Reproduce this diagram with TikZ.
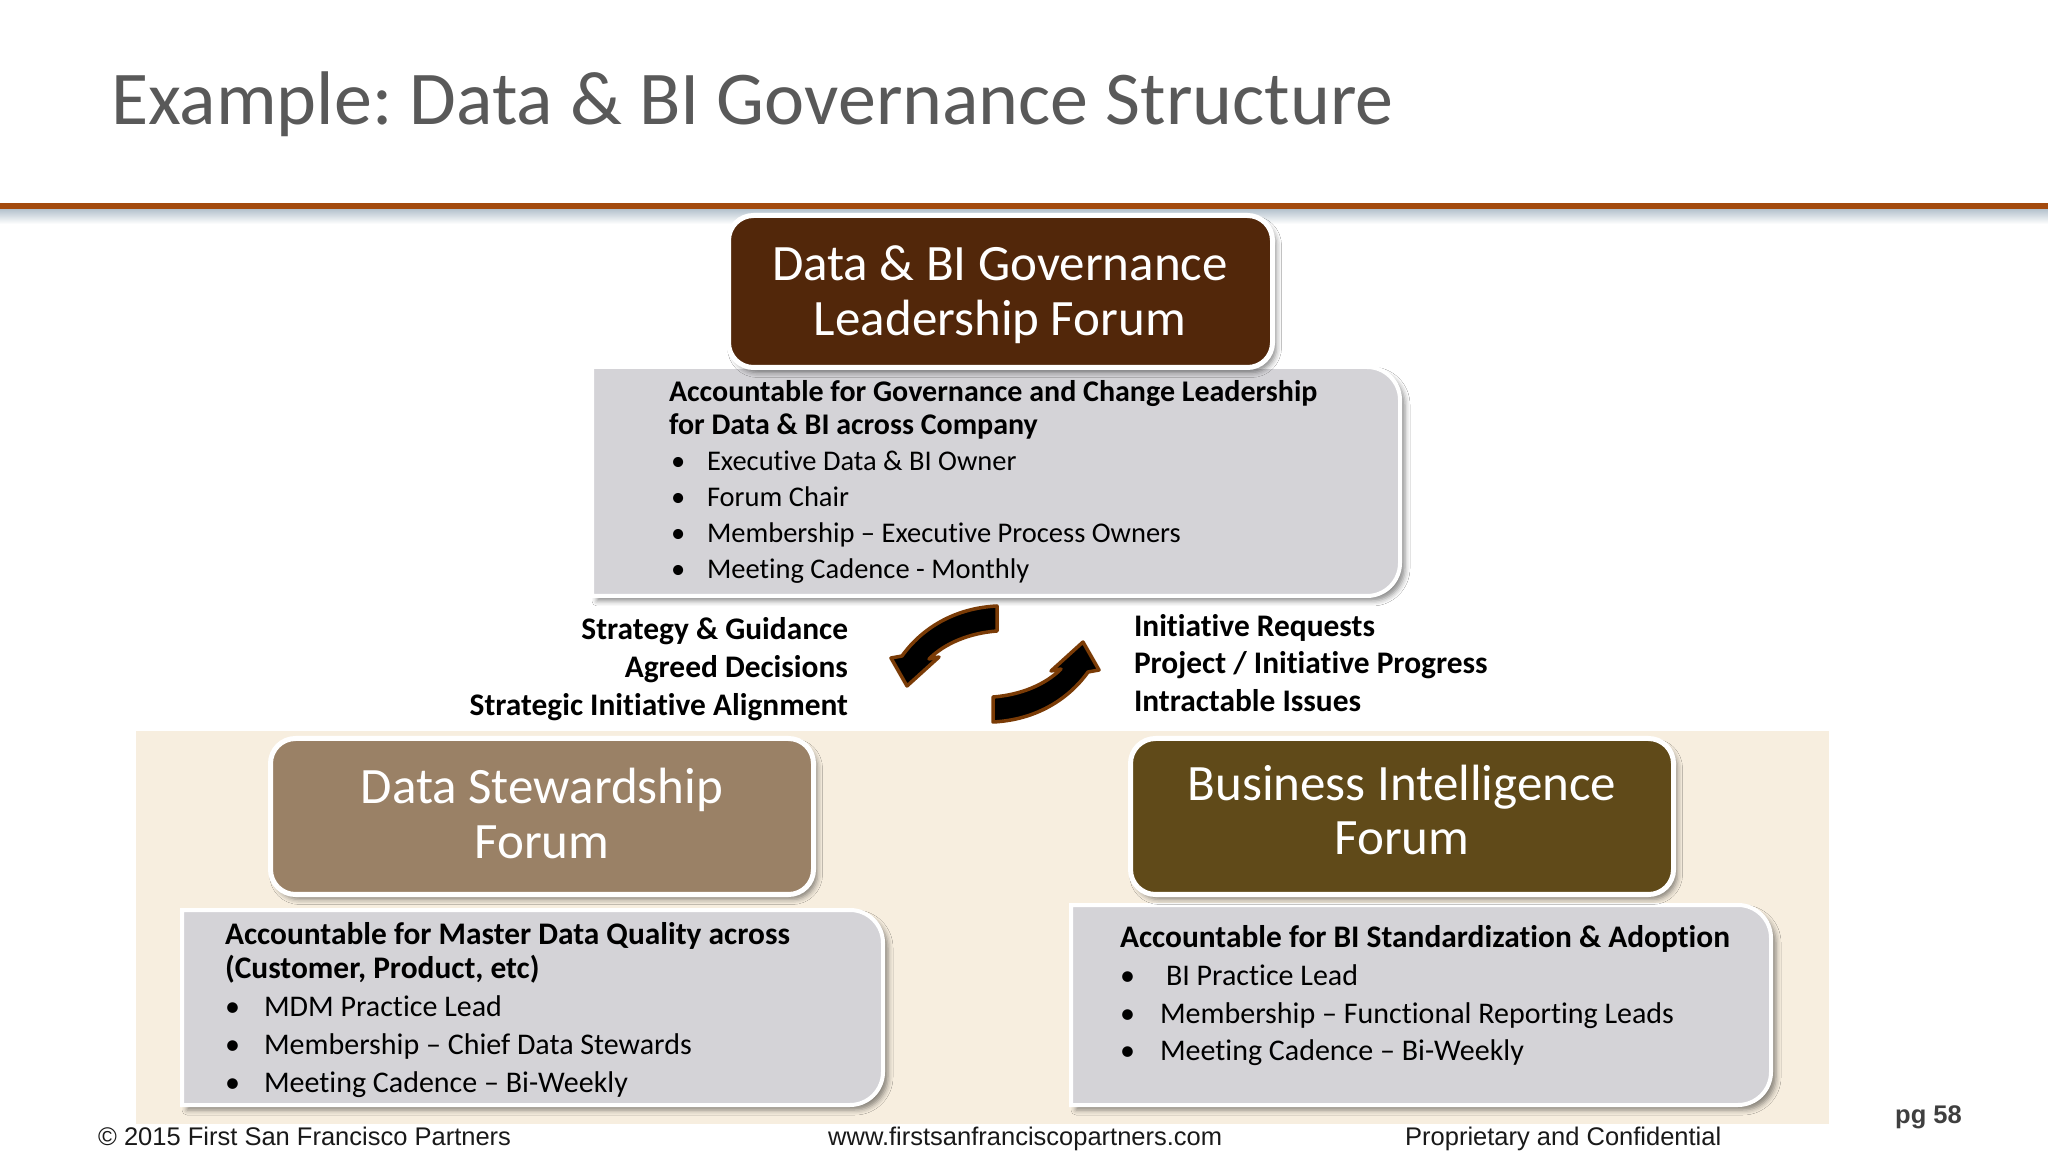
\documentclass[tikz,border=0pt]{standalone}
\usepackage{fontspec}
\setmainfont{Carlito}[Ligatures={TeX,NoCommon}]
\newfontfamily\arialfont{Liberation Sans}
\usetikzlibrary{shadows.blur}
\definecolor{titlegray}{HTML}{595959}
\definecolor{orangeline}{HTML}{A34A0E}
\definecolor{linesh}{HTML}{B4C2CD}
\definecolor{beige}{HTML}{F7EEDF}
\definecolor{boxgray}{HTML}{D4D3D7}
\definecolor{leadbrown}{HTML}{52270A}
\definecolor{dsbrown}{HTML}{9A8166}
\definecolor{bibrown}{HTML}{604A19}
\definecolor{arrowedge}{HTML}{7A3B06}
\definecolor{pggray}{HTML}{3F3F3F}
\newcommand{\rrbox}[6]{\path[#1] (#2,#3) -- ({#4-#6},#3) arc[start angle=-90,end angle=0,radius=#6] -- (#4,{#5-#6}) arc[start angle=0,end angle=90,radius=#6] -- (#2,#5) -- cycle;}
\frenchspacing
\begin{document}
\begin{tikzpicture}[x=1pt,y=1pt,
  txt/.style={inner sep=0pt, outer sep=0pt, anchor=base west, font=\fontsize{28.5}{34}\selectfont},
  boldtxt/.style={txt, font=\fontsize{30}{36}\selectfont\bfseries},
  btxt/.style={txt, font=\fontsize{30}{36}\selectfont},
  bboldtxt/.style={txt, font=\fontsize{31.4}{37}\selectfont\bfseries},
  lbl/.style={txt, font=\fontsize{31.4}{37}\selectfont\bfseries, anchor=base east},
  rlbl/.style={txt, font=\fontsize{31.4}{37}\selectfont\bfseries, anchor=base west},
  forum/.style={draw=white, line width=5pt, rounded corners=25pt, inner sep=0pt,
    blur shadow={shadow xshift=4pt, shadow yshift=-5pt, shadow blur radius=5pt, shadow opacity=45}},
  forumtxt/.style={inner sep=0pt, anchor=base, text=white, font=\fontsize{51}{60}\selectfont},
  graybox/.style={fill=boxgray, draw=white, line width=4pt,
    blur shadow={shadow xshift=5pt, shadow yshift=-5pt, shadow blur radius=5pt, shadow opacity=45}},
  cyc/.style={fill=black, draw=arrowedge, line width=3.5pt, line join=round},
  foot/.style={inner sep=0pt, anchor=base west, font=\arialfont\fontsize{25.5}{30}\selectfont, text=black!90}]
\useasboundingbox (0,0) rectangle (2048,1152);
\fill[white] (0,0) rectangle (2048,1152);
% title
\node[inner sep=0pt, anchor=base west, font=\fontsize{76}{90}\selectfont, text=titlegray] (title) at (111,1027) {Example: Data \& BI Governance Structure};
% rule
\shade[top color=linesh, bottom color=white] (0,928) rectangle (2048,943);
\fill[orangeline] (0,943) rectangle (2048,949);
% beige panel
\fill[beige] (136,28) rectangle (1829,421);
% top gray box
\rrbox{graybox}{592}{556}{1400}{785}{33}
\node[boldtxt] (lt1) at (669,750) {Accountable for Governance and Change Leadership};
\node[boldtxt] (lt2) at (669,717) {for Data \& BI across Company};
\node[txt] (lb1) at (671,681) {•};
\node[txt] (lb2) at (671,645) {•};
\node[txt] (lb3) at (671,609) {•};
\node[txt] (lb4) at (671,573) {•};
\node[txt] (li1) at (707,681) {Executive Data \& BI Owner};
\node[txt] (li2) at (707,645) {Forum Chair};
\node[txt] (li3) at (707,609) {Membership – Executive Process Owners};
\node[txt] (li4) at (707,573) {Meeting Cadence - Monthly};
% top forum box
\node[forum, fill=leadbrown, minimum width=544pt, minimum height=152pt] (lead) at (1000.5,860.5) {};
\node[forumtxt] (leadt1) at (1000,871) {Data \& BI Governance};
\node[forumtxt] (leadt2) at (1000,816) {Leadership Forum};
% labels
\node[lbl] (sl1) at (848,512) {Strategy \& Guidance};
\node[lbl] (sl2) at (848,474) {Agreed Decisions};
\node[lbl] (sl3) at (848,436) {Strategic Initiative Alignment};
\node[rlbl] (rl1) at (1134,515) {Initiative Requests};
\node[rlbl] (rl2) at (1134,478) {Project / Initiative Progress};
\node[rlbl] (rl3) at (1134,440) {Intractable Issues};
% cycle arrows
\path[cyc] (993,455) .. controls (1020,457) and (1045,467) .. (1061,483) -- (1051,481) -- (1083,510) -- (1099,482) -- (1088,480) .. controls (1068,452) and (1035,432) .. (993,430) -- cycle;
\begin{scope}[rotate around={180:(995,488)}]
\path[cyc] (993,455) .. controls (1020,457) and (1045,467) .. (1061,483) -- (1051,481) -- (1083,510) -- (1099,482) -- (1088,480) .. controls (1068,452) and (1035,432) .. (993,430) -- cycle;
\end{scope}
% left bottom gray box
\rrbox{graybox}{182}{47}{883}{242}{33}
\node[bboldtxt] (dt1) at (225,208) {Accountable for Master Data Quality across};
\node[bboldtxt] (dt2) at (225,174) {(Customer, Product, etc)};
\node[btxt] (db1) at (225,136) {•};
\node[btxt] (db2) at (225,98) {•};
\node[btxt] (db3) at (225,60) {•};
\node[btxt] (di1) at (264,136) {MDM Practice Lead};
\node[btxt] (di2) at (264,98) {Membership – Chief Data Stewards};
\node[btxt] (di3) at (264,60) {Meeting Cadence – Bi-Weekly};
% right bottom gray box
\rrbox{graybox}{1071}{47}{1771}{247}{33}
\node[bboldtxt] (bt1) at (1120,205) {Accountable for BI Standardization \& Adoption};
\node[btxt] (bb1) at (1120,167) {•};
\node[btxt] (bb2) at (1120,129) {•};
\node[btxt] (bb3) at (1120,92) {•};
\node[btxt] (bi1) at (1166,167) {BI Practice Lead};
\node[btxt] (bi2) at (1160,129) {Membership – Functional Reporting Leads};
\node[btxt] (bi3) at (1160,92) {Meeting Cadence – Bi-Weekly};
% bottom forum boxes
\node[forum, fill=dsbrown, minimum width=543pt, minimum height=156pt] (ds) at (542,335.5) {};
\node[forumtxt] (dst1) at (542,348) {Data Stewardship};
\node[forumtxt] (dst2) at (542,293) {Forum};
\node[forum, fill=bibrown, minimum width=543pt, minimum height=156pt] (bi) at (1402,335.5) {};
\node[forumtxt] (bit1) at (1402,351) {Business Intelligence};
\node[forumtxt] (bit2) at (1402,297) {Forum};
% footer
\node[foot] (f1) at (98,7) {© 2015 First San Francisco Partners};
\node[foot] (f2) at (828,7) {www.firstsanfranciscopartners.com};
\node[foot] (f3) at (1405,7) {Proprietary and Confidential};
\node[foot, font=\arialfont\bfseries\fontsize{25.5}{30}\selectfont, text=pggray] (pg) at (1895,29) {pg 58};
\end{tikzpicture}
\end{document}
